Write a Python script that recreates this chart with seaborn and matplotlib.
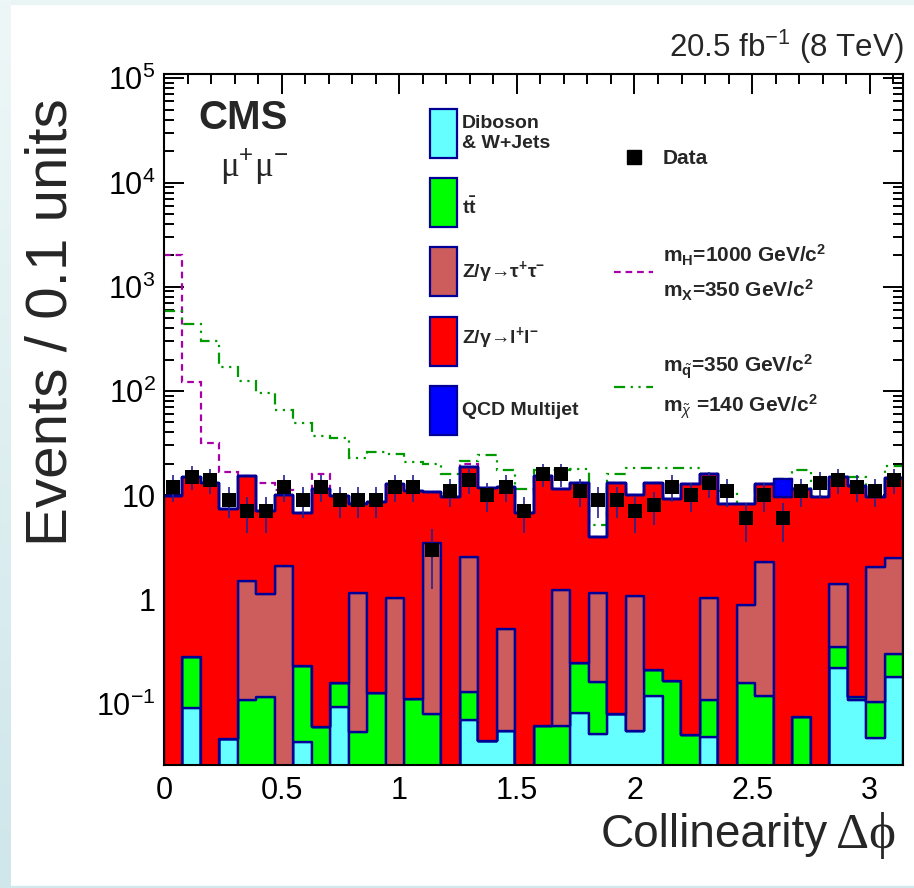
import numpy as np
import pandas as pd
import matplotlib
matplotlib.use("Agg")
import matplotlib.pyplot as plt
import seaborn as sns
from matplotlib.patches import Rectangle
from matplotlib.lines import Line2D
from matplotlib.colors import LinearSegmentedColormap
from matplotlib.ticker import FixedLocator, FuncFormatter, MultipleLocator, LogLocator, NullFormatter

# ---- binning: 40 bins over [0, pi] ----
n_bins = 40
edges = np.linspace(0.0, np.pi, n_bins + 1)
centers = 0.5 * (edges[:-1] + edges[1:])

# ---- background yields per bin ----
diboson = [0, 0.090, 0, 0.046, 0, 0, 0, 0.043, 0, 0.092,
           0, 0, 0, 0, 0, 0, 0.070, 0.044, 0.054, 0,
           0, 0, 0.081, 0.051, 0.080, 0.054, 0.118, 0, 0, 0.048,
           0, 0, 0, 0, 0, 0, 0.217, 0.109, 0.047, 0.178]
ttbar = [0, 0.187, 0, 0, 0.109, 0.116, 0, 0.186, 0.059, 0.067,
         0.053, 0.125, 0, 0.110, 0.079, 0, 0.058, 0, 0, 0,
         0.061, 0.061, 0.165, 0.111, 0, 0, 0.091, 0.165, 0.050, 0.060,
         0, 0.158, 0.118, 0, 0.075, 0, 0.128, 0.007, 0.057, 0.120]
ztautau = [0, 0, 0, 0, 1.40, 1.02, 2.11, 0, 0, 0,
           1.09, 0, 1.04, 0, 3.41, 0, 2.43, 0, 0.46, 0,
           0, 1.18, 0, 0.98, 0, 1.02, 0, 0, 0, 0.93,
           0, 0.73, 2.15, 0, 0, 0, 1.055, 0, 1.95, 2.22]
zll = [9.8, 14.72, 13.1, 7.25, 13.69, 5.86, 7.89, 6.47, 11.34, 9.74,
       7.16, 8.48, 11.86, 10.89, 7.31, 9.5, 15.94, 11.56, 11.39, 6.7,
       15.14, 10.16, 12.95, 2.84, 13.12, 8.93, 12.99, 8.94, 12.75, 14.86,
       8.3, 7.31, 10.63, 9.6, 11.33, 9.6, 13.6, 12.08, 7.55, 11.98]
qcd = [0] * 33 + [4.8] + [0] * 6

# ---- observed events ----
data = [12, 15, 14, 9, 7, 7, 12, 9, 12, 9,
        9, 9, 12, 12, 3, 11, 14, 10, 12, 7,
        16, 16, 11, 9, 9, 7, 8, 12, 10, 13,
        11, 6, 10, 6, 11, 13, 14, 12, 11, 14]

# ---- signal yields (drawn on top of the total background) ----
sig_h = [2000, 107, 18.7, 9.5, 0, 6.1, 1.2, 0, 4.7, 0,
         0, 0, 0, 0, 0, 0, 1.4, 0, 0, 0,
         0, 0, 0, 0, 0, 0, 0, 0, 0, 0,
         0, 0, 0, 0, 0, 0, 0, 0, 0, 0]
sig_sq = [577, 422, 290, 163, 109, 89, 56, 42, 25.4, 25.5,
          14.3, 17.5, 11.9, 10.0, 9.0, 6.6, 2.9, 12.6, 5.5, 4.7,
          2.2, 6.2, 4.6, 1.2, 2.9, 8.4, 5.2, 9.3, 5.6, 0,
          2.7, 0, 0, 0, 6.2, 0.3, 0, 2.8, 0, 4.5]

processes = ["QCD Multijet", "Z/gamma->ll", "Z/gamma->tautau", "ttbar", "Diboson"]
colors = {"QCD Multijet": "#0000ff", "Z/gamma->ll": "#ff0000",
          "Z/gamma->tautau": "#cd5c5c", "ttbar": "#00ff00", "Diboson": "#66ffff"}
navy = "#000096"

sns.set_theme(style="ticks")
plt.rcParams["font.family"] = ["Liberation Sans", "DejaVu Sans"]
plt.rcParams.update({
    "mathtext.fontset": "custom",
    "mathtext.rm": "Liberation Sans",
    "mathtext.it": "Liberation Sans:italic",
    "mathtext.bf": "Liberation Sans:bold",
    "mathtext.sf": "Liberation Sans",
})

W, H = 914, 888
fig = plt.figure(figsize=(W / 100, H / 100), dpi=100)
fig.patch.set_facecolor("white")


def fx(x):
    return x / W


def fy(y):
    return 1 - y / H


# page strips around the canvas
strip_ax = fig.add_axes([0, 0, fx(11), 1])
strip_ax.imshow(np.linspace(0, 1, 256).reshape(-1, 1), aspect="auto",
                cmap=LinearSegmentedColormap.from_list("page", ["#eef7f8", "#cfe6ea"]),
                extent=(0, 1, 0, 1))
strip_ax.set_axis_off()
fig.patches.append(Rectangle((0, 1 - 4 / H), 1, 4 / H, transform=fig.transFigure,
                             color="#e9f4f5", zorder=-5))
fig.patches.append(Rectangle((0, 0), 1, 2 / H, transform=fig.transFigure,
                             color="#d3e8ec", zorder=-5))

ax = fig.add_axes([fx(164), fy(765), fx(903 - 164), (765 - 74) / H])
ax.set_yscale("log")

df = pd.DataFrame({
    "dphi": np.tile(centers, len(processes)),
    "events": np.concatenate([qcd, zll, ztautau, ttbar, diboson]),
    "process": np.repeat(processes, n_bins),
})
sns.histplot(data=df, x="dphi", weights="events", hue="process",
             hue_order=processes, multiple="stack", element="step",
             bins=n_bins, binrange=(0.0, np.pi), palette=colors, alpha=1,
             edgecolor=navy, linewidth=1.7, legend=False, ax=ax)

bkg_total = (np.array(diboson) + np.array(ttbar) + np.array(ztautau)
             + np.array(zll) + np.array(qcd))

ax.stairs(bkg_total + np.array(sig_h), edges, baseline=None,
          color="#a800a8", linestyle=(0, (3, 2.2)), linewidth=1.6, zorder=0.8)
ax.stairs(bkg_total + np.array(sig_sq), edges, baseline=None,
          color="#009a00", linestyle=(0, (5, 2.5, 1, 2.5, 1, 2.5)),
          linewidth=1.6, zorder=0.8)

data_arr = np.array(data, dtype=float)
ax.errorbar(centers, data_arr, yerr=np.sqrt(data_arr), fmt="none",
            ecolor="#23238f", elinewidth=1.2, capsize=0, zorder=3)
sns.scatterplot(x=centers, y=data_arr, marker="s", s=88, color="black",
                edgecolor="black", linewidth=0, zorder=4, ax=ax, legend=False)

ax.set_xlim(0, np.pi)
ax.set_ylim(0.0257, 1.1e5)
ax.set_xlabel("")
ax.set_ylabel("")

ax.xaxis.set_major_locator(MultipleLocator(0.5))
ax.xaxis.set_minor_locator(MultipleLocator(0.1))
ax.xaxis.set_major_formatter(FuncFormatter(lambda v, p: f"{v:g}"))

ylabels = {0.1: r"$\mathregular{10^{-1}}$", 1.0: "1", 10.0: "10",
           100.0: r"$\mathregular{10^{2}}$", 1e3: r"$\mathregular{10^{3}}$",
           1e4: r"$\mathregular{10^{4}}$", 1e5: r"$\mathregular{10^{5}}$"}
ax.yaxis.set_major_locator(FixedLocator(list(ylabels.keys())))
ax.yaxis.set_major_formatter(FuncFormatter(
    lambda v, p: min(ylabels.items(), key=lambda kv: abs(np.log10(kv[0]) - np.log10(v)))[1]))
ax.yaxis.set_minor_locator(LogLocator(base=10, subs=np.arange(2, 10), numticks=20))
ax.yaxis.set_minor_formatter(NullFormatter())

ax.tick_params(which="both", direction="in", top=True, right=True,
               color="black", width=1.4, labelsize=22, labelcolor="black")
ax.tick_params(which="major", length=14.5)
ax.tick_params(which="minor", length=7.5)
ax.tick_params(axis="x", which="major", pad=8)
ax.tick_params(axis="y", which="major", pad=6)
for s in ax.spines.values():
    s.set_color("black")
    s.set_linewidth(1.5)
    s.set_zorder(5)

# axis titles
fig.text(fx(52), fy(322), "Events / 0.1 units", rotation=90, ha="center",
         va="center", fontsize=42)
fig.text(fx(828), fy(835), "Collinearity", ha="right", va="center",
         fontsize=33)
fig.text(fx(836), fy(835), "Δϕ", ha="left", va="center", fontsize=37,
         family=["Liberation Serif", "DejaVu Serif"])
fig.text(fx(904), fy(57), r"20.5 fb$^{-1}$ (8 TeV)", ha="right",
         va="baseline", fontsize=22.5)

# experiment label
fig.text(fx(243), fy(118), "CMS", ha="center", va="center", fontsize=29,
         fontweight="bold")
fig.text(fx(254), fy(167), r"μ$^{+}$μ$^{-}$", ha="center", va="center",
         fontsize=25, family=["Liberation Serif", "DejaVu Serif"])

# legend: background processes
box_tops = [109, 178, 247, 317, 386]
box_order = ["Diboson", "ttbar", "Z/gamma->tautau", "Z/gamma->ll", "QCD Multijet"]
for top, proc in zip(box_tops, box_order):
    fig.patches.append(Rectangle((fx(430), fy(top + 49)), fx(27), 49 / H,
                                 transform=fig.transFigure, facecolor=colors[proc],
                                 edgecolor=navy, linewidth=1.6, zorder=6))

lkw = dict(ha="left", va="center", fontsize=14, fontweight="bold")
fig.text(fx(462), fy(124), "Diboson", **lkw)
fig.text(fx(462), fy(143), "& W+Jets", **lkw)
fig.text(fx(462), fy(207), r"$\mathbf{t\bar{t}}$", **lkw)
fig.text(fx(462), fy(272), r"Z/γ→τ$^{\mathbf{+}}$τ$^{\mathbf{-}}$", **lkw)
fig.text(fx(462), fy(338), r"Z/γ→l$^{\mathbf{+}}$l$^{\mathbf{-}}$", **lkw)
fig.text(fx(462), fy(410), "QCD Multijet", **lkw)

# legend: data and signals
fig.lines.append(Line2D([fx(634)], [fy(157)], marker="s", markersize=9.5,
                        color="black", linestyle="none", transform=fig.transFigure))
rkw = dict(ha="left", va="center", fontsize=15, fontweight="bold")
fig.text(fx(663), fy(158), "Data", **rkw)
fig.lines.append(Line2D([fx(614), fx(653)], [fy(272), fy(272)], color="#a800a8",
                        linestyle=(0, (3, 2.2)), linewidth=1.6, transform=fig.transFigure))
fig.text(fx(663), fy(255), r"m$_{\mathbf{H}}$=1000 GeV/c$^{\mathbf{2}}$", **rkw)
fig.text(fx(663), fy(290), r"m$_{\mathbf{X}}$=350 GeV/c$^{\mathbf{2}}$", **rkw)
fig.lines.append(Line2D([fx(614), fx(653)], [fy(387), fy(387)], color="#009a00",
                        linestyle=(0, (5, 2.5, 1, 2.5, 1, 2.5)), linewidth=1.6,
                        transform=fig.transFigure))
fig.text(fx(663), fy(367), r"m$_{\tilde{\mathbf{q}}}$=350 GeV/c$^{\mathbf{2}}$", **rkw)
fig.text(fx(663), fy(407), r"m$_{\tilde{\chi}}$ =140 GeV/c$^{\mathbf{2}}$", **rkw)

fig.savefig("out.png", dpi=100)
